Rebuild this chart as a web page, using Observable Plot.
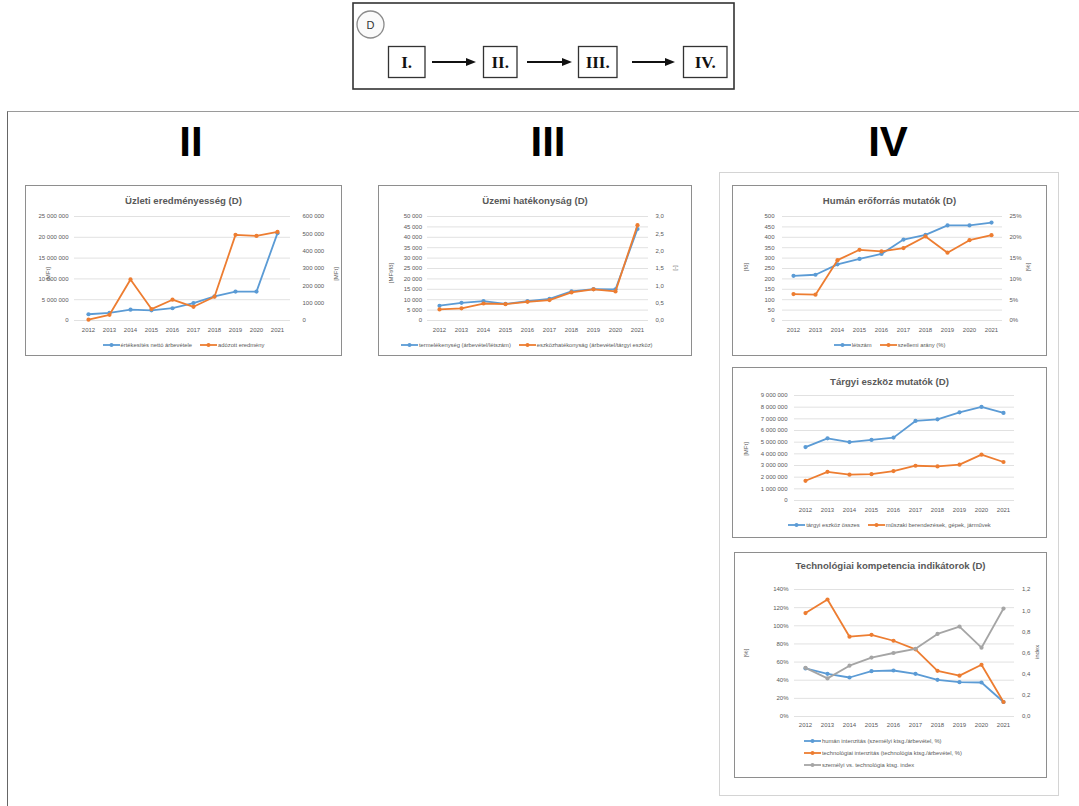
<!DOCTYPE html>
<html lang="hu">
<head>
<meta charset="utf-8">
<script src="https://cdn.jsdelivr.net/npm/d3@7"></script>
<script src="https://cdn.jsdelivr.net/npm/@observablehq/plot@0.6"></script>
<style>
  html, body { margin: 0; padding: 0; background: #fff; }
  body { width: 1079px; height: 806px; position: relative; overflow: hidden;
         font-family: "Liberation Sans", Arial, sans-serif; }
  .frame { position: absolute; left: 7px; top: 111px; width: 1100px; height: 720px;
           border-left: 1.5px solid #666; border-top: 1.5px solid #9a9a9a; }
  .head { position: absolute; top: 121px; font-family: "Liberation Sans Narrow", "Liberation Sans", sans-serif;
          font-weight: bold; font-size: 42px; line-height: 1; color: #000; transform: translateX(-50%); }
  .panel { position: absolute; left: 719px; top: 172px; width: 340px; height: 624px;
           border: 1px solid #d4d4d4; box-sizing: border-box; }
  .chart { position: absolute; }
  .chart .bd { position: absolute; inset: 0; border: 1.5px solid #8e8e8e; box-sizing: border-box; background: #fff; }
  .chart > svg { position: absolute; left: 0; top: 0; }
  .ctitle { position: absolute; left: 0; right: 0; text-align: center; font-weight: bold;
            font-size: 9.6px; line-height: 12px; color: #595959; white-space: nowrap; }
  .legend { position: absolute; display: flex; align-items: center; gap: 8px; height: 8px;
            font-size: 5.8px; color: #595959; white-space: nowrap; }
  .legend.center { left: 0; right: 0; justify-content: center; }
  .legend.col { flex-direction: column; align-items: flex-start; gap: 6px; height: auto; }
  .li { display: flex; align-items: center; gap: 1px; }
  .li svg { display: block; }
  .ytitle { position: absolute; font-size: 6px; color: #595959; white-space: nowrap;
            transform: translate(-50%, -50%) rotate(-90deg); }
</style>
</head>
<body>
<!-- process diagram -->
<svg width="1079" height="100" style="position:absolute;left:0;top:0">
  <rect x="353" y="3" width="381" height="86" fill="#fff" stroke="#333" stroke-width="1.6"/>
  <circle cx="370.5" cy="24.5" r="13.5" fill="#fafafa" stroke="#8a8a8a" stroke-width="1.3"/>
  <text x="370.5" y="28.5" text-anchor="middle" font-family="Liberation Sans, Arial, sans-serif" font-size="11" fill="#333">D</text>
  <g font-family="Liberation Serif, Times New Roman, serif" font-weight="bold" font-size="17" text-anchor="middle" fill="#111">
    <rect x="388.5" y="46.5" width="36.5" height="31" fill="#fff" stroke="#333" stroke-width="1.3"/>
    <text x="406.7" y="68">I.</text>
    <rect x="483.5" y="46.5" width="33.5" height="31" fill="#fff" stroke="#333" stroke-width="1.3"/>
    <text x="500.2" y="68">II.</text>
    <rect x="578.5" y="46.5" width="38.5" height="31" fill="#fff" stroke="#333" stroke-width="1.3"/>
    <text x="597.7" y="68">III.</text>
    <rect x="683.5" y="46.5" width="43.5" height="31" fill="#fff" stroke="#333" stroke-width="1.3"/>
    <text x="705.2" y="68">IV.</text>
  </g>
  <g stroke="#111" stroke-width="2" fill="#111">
    <line x1="432" y1="62" x2="468" y2="62"/><path d="M466,58 L476,62 L466,66 Z" stroke="none"/>
    <line x1="527" y1="62" x2="564" y2="62"/><path d="M562,58 L572,62 L562,66 Z" stroke="none"/>
    <line x1="632" y1="62" x2="667" y2="62"/><path d="M665,58 L675,62 L665,66 Z" stroke="none"/>
  </g>
</svg>

<div class="frame"></div>
<div class="head" style="left:191px">II</div>
<div class="head" style="left:548px">III</div>
<div class="head" style="left:888px">IV</div>
<div class="panel"></div>

<script>
const years = [2012, 2013, 2014, 2015, 2016, 2017, 2018, 2019, 2020, 2021];

// Üzleti eredményesség [MFt]
const netSalesRevenue = [1500000, 1850000, 2600000, 2450000, 2950000, 4200000, 5800000, 6950000, 6950000, 21000000];
const profitAfterTax = [5000, 33000, 237000, 66000, 120000, 79000, 137000, 494000, 488000, 511000];

// Üzemi hatékonyság
const laborProductivity = [7100, 8500, 9300, 8000, 9300, 10400, 14000, 15100, 15000, 44000]; // [MFt/fő]
const assetEfficiency = [0.32, 0.35, 0.49, 0.47, 0.54, 0.59, 0.81, 0.90, 0.84, 2.75];

// Humán erőforrás mutatók
const headcount = [215, 220, 270, 296, 320, 389, 412, 457, 457, 471]; // [fő]
const whiteCollarShare = [0.0635, 0.062, 0.145, 0.170, 0.166, 0.174, 0.202, 0.163, 0.193, 0.205];

// Tárgyi eszköz mutatók [MFt]
const fixedAssetsTotal = [4580000, 5330000, 5010000, 5190000, 5390000, 6820000, 6960000, 7560000, 8020000, 7510000];
const machineryVehicles = [1690000, 2460000, 2210000, 2260000, 2520000, 2980000, 2920000, 3070000, 3930000, 3300000];

// Technológiai kompetencia indikátorok
const humanIntensity = [0.53, 0.47, 0.43, 0.50, 0.507, 0.47, 0.404, 0.378, 0.375, 0.16];
const techIntensity = [1.14, 1.29, 0.88, 0.90, 0.835, 0.74, 0.504, 0.45, 0.57, 0.16];
const personalVsTechIndex = [0.46, 0.36, 0.48, 0.557, 0.60, 0.64, 0.78, 0.85, 0.65, 1.02];

const BLUE = "#5b9bd5", ORANGE = "#ed7d31", GRAY = "#a5a5a5";
const FONT = '"Liberation Sans", Arial, sans-serif';

const hu = d3.formatLocale({decimal: ",", thousands: " ", grouping: [3], currency: ["", " Ft"]});
const fmtInt = hu.format(",d");
const fmtPct = hu.format(".0%");
const fmtDec = hu.format(".1f");

const ticks = (max, step) => d3.range(Math.round(max / step) + 1).map(i => +(i * step).toFixed(6));

function legendItem(color, text) {
  return `<span class="li"><svg width="17" height="6"><line x1="0" y1="3" x2="17" y2="3" stroke="${color}" stroke-width="1.8"/>` +
         `<circle cx="8.5" cy="3" r="2" fill="${color}"/></svg><span>${text}</span></span>`;
}

function makeChart(cfg) {
  const box = document.createElement("div");
  box.className = "chart";
  Object.assign(box.style, {left: cfg.x + "px", top: cfg.y + "px", width: cfg.w + "px", height: cfg.h + "px"});
  box.innerHTML = `<div class="bd"></div>`;

  const k = cfg.right ? cfg.left.max / cfg.right.max : 1;
  const leftTicks = ticks(cfg.left.max, cfg.left.step);
  const marks = [
    Plot.gridY(leftTicks, {stroke: "#d9d9d9", strokeOpacity: 1, strokeWidth: 0.8}),
    Plot.axisX({tickSize: 0, tickPadding: cfg.padX, tickFormat: d => String(d), label: null}),
    Plot.axisY(leftTicks, {tickSize: 0, tickPadding: cfg.left.pad, tickFormat: cfg.left.fmt, label: null})
  ];
  if (cfg.right) {
    const rt = ticks(cfg.right.max, cfg.right.step);
    marks.push(Plot.axisY(rt.map(t => t * k), {anchor: "right", tickSize: 0, tickPadding: cfg.right.pad,
      tickFormat: t => cfg.right.fmt(t / k), label: null}));
  }
  for (const s of cfg.series) {
    const pts = years.map((year, i) => ({year, v: s.values[i] * (s.axis === "right" ? k : 1)}));
    marks.push(Plot.line(pts, {x: "year", y: "v", stroke: s.color, strokeWidth: 1.8, strokeLinejoin: "round"}));
    marks.push(Plot.dot(pts, {x: "year", y: "v", r: 2.1, fill: s.color, stroke: "none"}));
  }

  const svg = Plot.plot({
    width: cfg.w, height: cfg.h,
    marginTop: cfg.m[0], marginRight: cfg.m[1], marginBottom: cfg.m[2], marginLeft: cfg.m[3],
    x: {type: "point", domain: years, padding: 0.5, label: null},
    y: {domain: [0, cfg.left.max], label: null},
    style: {fontFamily: FONT, fontSize: "6px", color: "#595959", background: "transparent", overflow: "visible"},
    marks
  });
  box.appendChild(svg);

  const t = document.createElement("div");
  t.className = "ctitle";
  t.style.top = (cfg.titleY - 6) + "px";
  t.textContent = cfg.title;
  box.appendChild(t);

  for (const yt of cfg.yTitles) {
    const s = document.createElement("div");
    s.className = "ytitle";
    s.style.left = yt.x + "px";
    s.style.top = yt.y + "px";
    s.textContent = yt.text;
    box.appendChild(s);
  }

  const lg = document.createElement("div");
  lg.className = "legend " + (cfg.legend.mode || "");
  if (cfg.legend.mode === "col") {
    lg.style.left = cfg.legend.x + "px";
    lg.style.top = (cfg.legend.y - 3) + "px";
  } else {
    lg.style.top = (cfg.legend.y - 4) + "px";
    if (cfg.legend.x != null) lg.style.left = cfg.legend.x + "px";
  }
  lg.innerHTML = cfg.series.map(s => legendItem(s.color, s.name)).join("");
  box.appendChild(lg);

  document.body.appendChild(box);
}

makeChart({
  x: 25, y: 185, w: 317, h: 171, m: [31, 52, 36, 49], padX: 7.5,
  title: "Üzleti eredményesség (D)", titleY: 16,
  left: {max: 25000000, step: 5000000, fmt: fmtInt, pad: 6},
  right: {max: 600000, step: 100000, fmt: fmtInt, pad: 12},
  series: [
    {name: "értékesítés nettó árbevétele", values: netSalesRevenue, color: BLUE, axis: "left"},
    {name: "adózott eredmény", values: profitAfterTax, color: ORANGE, axis: "right"}
  ],
  yTitles: [{text: "[MFt]", x: 23, y: 89}, {text: "[MFt]", x: 311, y: 89}],
  legend: {mode: "center", y: 160}
});

makeChart({
  x: 378, y: 185, w: 314, h: 171, m: [31, 44, 36, 49], padX: 7.5,
  title: "Üzemi hatékonyság (D)", titleY: 16,
  left: {max: 50000, step: 5000, fmt: fmtInt, pad: 5.5},
  right: {max: 3, step: 0.5, fmt: fmtDec, pad: 7},
  series: [
    {name: "termelékenység (árbevétel/létszám)", values: laborProductivity, color: BLUE, axis: "left"},
    {name: "eszközhatékonyság (árbevétel/tárgyi eszköz)", values: assetEfficiency, color: ORANGE, axis: "right"}
  ],
  yTitles: [{text: "[MFt/fő]", x: 13, y: 88}, {text: "[-]", x: 297, y: 83}],
  legend: {y: 160, x: 23}
});

makeChart({
  x: 732, y: 185, w: 315, h: 171, m: [31, 45, 36, 50], padX: 7.5,
  title: "Humán erőforrás mutatók (D)", titleY: 16,
  left: {max: 500, step: 50, fmt: fmtInt, pad: 8},
  right: {max: 0.25, step: 0.05, fmt: fmtPct, pad: 7},
  series: [
    {name: "létszám", values: headcount, color: BLUE, axis: "left"},
    {name: "szellemi arány (%)", values: whiteCollarShare, color: ORANGE, axis: "right"}
  ],
  yTitles: [{text: "[fő]", x: 14, y: 82}, {text: "[%]", x: 296, y: 82}],
  legend: {mode: "center", y: 160}
});

makeChart({
  x: 732, y: 367, w: 315, h: 171, m: [28, 33, 38, 62], padX: 7.5,
  title: "Tárgyi eszköz mutatók (D)", titleY: 15,
  left: {max: 9000000, step: 1000000, fmt: fmtInt, pad: 7},
  series: [
    {name: "tárgyi eszköz összes", values: fixedAssetsTotal, color: BLUE, axis: "left"},
    {name: "műszaki berendezések, gépek, járművek", values: machineryVehicles, color: ORANGE, axis: "left"}
  ],
  yTitles: [{text: "[MFt]", x: 14, y: 82}],
  legend: {mode: "center", y: 158}
});

makeChart({
  x: 734, y: 552, w: 313, h: 226, m: [37, 33, 62, 60], padX: 6,
  title: "Technológiai kompetencia indikátorok (D)", titleY: 14,
  left: {max: 1.4, step: 0.2, fmt: fmtPct, pad: 6},
  right: {max: 1.2, step: 0.2, fmt: fmtDec, pad: 7.5},
  series: [
    {name: "humán intenzitás (személyi ktsg./árbevétel, %)", values: humanIntensity, color: BLUE, axis: "left"},
    {name: "technológiai intenzitás (technológia ktsg./árbevétel, %)", values: techIntensity, color: ORANGE, axis: "left"},
    {name: "személyi vs. technológia ktsg. index", values: personalVsTechIndex, color: GRAY, axis: "right"}
  ],
  yTitles: [{text: "[%]", x: 12, y: 101}, {text: "index", x: 303, y: 100}],
  legend: {mode: "col", x: 70, y: 189}
});
</script>
</body>
</html>
